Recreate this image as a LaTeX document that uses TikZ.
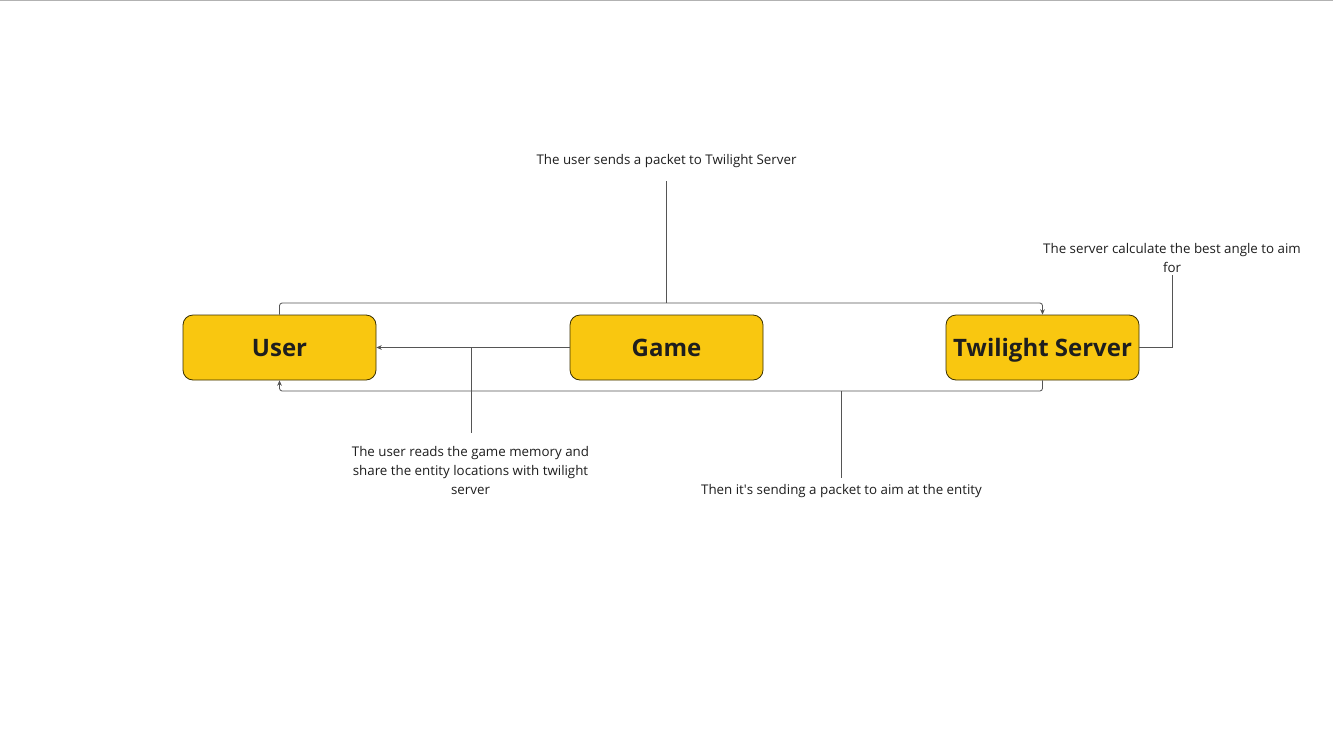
\documentclass[tikz,border=0pt]{standalone}
\usepackage{fontspec}
\setmainfont{Open Sans}
\usetikzlibrary{arrows.meta}
\definecolor{boxfill}{HTML}{F9C710}
\definecolor{boxline}{HTML}{3A3000}
\definecolor{conn}{HTML}{555555}
\definecolor{txt}{HTML}{1E1E1E}
\tikzset{
  box/.style={draw=boxline, line width=0.6pt, fill=boxfill, rounded corners=7.5pt,
    minimum width=144.75pt, minimum height=48.75pt, inner sep=0pt,
    text height=12.9pt, text depth=0pt,
    font=\fontsize{18}{22}\selectfont\bfseries, text=txt},
  lbl/.style={font=\fontsize{10}{14.2}\selectfont, text=txt, align=center, inner sep=0pt},
  wire/.style={draw=conn, line width=0.6pt, rounded corners=2pt},
  arr/.style={-{Stealth[length=4pt,width=3.5pt]}},
}
\begin{document}
\begin{tikzpicture}[x=0.75pt,y=-0.75pt]
\useasboundingbox (0,0) rectangle (1333,750);
\fill[white] (0,0) rectangle (1333,750);
\draw[color=black!30, line width=0.9pt] (0,0.5) -- (1333,0.5);

\node[box] (user) at (279.5,347.5) {User};
\node[box] (game) at (666.5,347.5) {Game};
\node[box] (srv) at (1042.5,347.5) {Twilight Server};

\node[lbl] (l1) at (666.5,161.5) {The user sends a packet to Twilight Server};
\node[lbl] (l2) at (1172,258) {The server calculate the best angle to aim\\for};
\node[lbl] (l3) at (470.5,470.5) {The user reads the game memory and\\share the entity locations with twilight\\server};
\node[lbl] (l4) at (841.5,491.5) {Then it\textquotesingle s sending a packet to aim at the entity};

\coordinate (topbar) at (666.5,303);
\coordinate (midpt) at (471,347.5);
\coordinate (botpt) at (841,391);

% user -> server (top)
\draw[wire,arr] (user.north) -- (279.5,303) -- (1042.5,303) -- (srv.north);
% game -> user
\draw[wire,arr] (game.west) -- (user.east);
% server -> user (bottom)
\draw[wire,arr] (srv.south) -- (1042.5,391) -- (279.5,391) -- (user.south);
% server -> label
\draw[wire,rounded corners=0pt] (srv.east) -- (1172,347.5) -- (1172,275);

% label leaders
\draw[wire] (666.5,181) -- (topbar);
\draw[wire] (midpt) -- (471,433);
\draw[wire] (botpt) -- (841,478);
\end{tikzpicture}
\end{document}
